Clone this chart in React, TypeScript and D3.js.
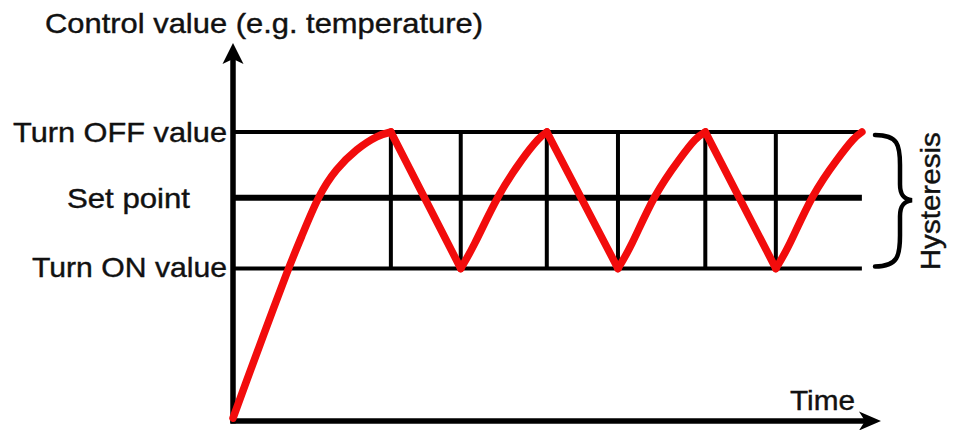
import React from "react";
import * as d3 from "d3";

// ---- data ----
const levelNames = ["Turn OFF value", "Set point", "Turn ON value"];
const levelValues = [76.6, 59.1, 40.3];

// switching instants (peaks / troughs) where vertical guides are drawn
const switchTimes = [24.4, 35.2, 48.5, 59.5, 73.0, 83.9];

// control value trace
const curveTime = [
  0, 2.1, 4.7, 8.3, 10.6, 13.2, 16.0, 19.1, 22.2, 24.4,
  35.2, 37.4, 41.0, 44.6, 47.1, 48.5,
  59.5, 61.7, 65.2, 68.9, 71.4, 73.0,
  83.9, 86.1, 89.6, 93.3, 95.8, 97.2,
];
const curveValue = [
  0.5, 10.4, 22.5, 39.0, 48.8, 59.0, 66.5, 71.8, 75.3, 76.6,
  40.3, 47.1, 59.4, 69.1, 74.5, 76.6,
  40.3, 47.1, 59.4, 69.1, 74.5, 76.6,
  40.3, 47.1, 59.4, 69.1, 74.5, 76.6,
];

const titleText = "Control value (e.g. temperature)";
const xAxisText = "Time";
const braceText = "Hysteresis";

// ---- layout ----
const W = 957;
const H = 430;
const X0 = 233;
const Y0 = 421;
const xScale = d3.scaleLinear().domain([0, 100]).range([X0, 880]);
const yScale = d3.scaleLinear().domain([0, 100]).range([420, 44]);
const gridEnd = 97.2;

const labelLayout = [
  { x: 13, dy: 10, len: 214 },
  { x: 67, dy: 10, len: 123 },
  { x: 32, dy: 9, len: 195 },
];
const levelWidths = [4, 6, 4];

export default function App() {
  const points: [number, number][] = curveTime.map((t, i) => [t, curveValue[i]]);

  // split into heating (rising, smooth) and cooling (falling, straight) pieces
  const rises: [number, number][][] = [];
  const falls: [number, number][][] = [];
  let cur: [number, number][] = [points[0]];
  for (let i = 1; i < points.length; i++) {
    if (points[i][1] < points[i - 1][1]) {
      rises.push(cur);
      falls.push([points[i - 1], points[i]]);
      cur = [points[i]];
    } else {
      cur.push(points[i]);
    }
  }
  rises.push(cur);

  const smooth = d3
    .line<[number, number]>()
    .x((d) => xScale(d[0]))
    .y((d) => yScale(d[1]))
    .curve(d3.curveNatural);
  const straight = d3
    .line<[number, number]>()
    .x((d) => xScale(d[0]))
    .y((d) => yScale(d[1]))
    .curve(d3.curveLinear);

  const topY = yScale(levelValues[0]);
  const botY = yScale(levelValues[2]);
  const font = "'Liberation Sans', Arial, Helvetica, sans-serif";

  const bx = 875;
  const braceMid = (topY + botY) / 2;
  const bracePath = `M ${bx} ${topY + 3} C ${bx + 23} ${topY + 3}, ${bx + 25} ${topY + 13}, ${bx + 25} ${topY + 33}
    L ${bx + 25} ${braceMid - 16} C ${bx + 25} ${braceMid - 5}, ${bx + 29} ${braceMid - 1}, ${bx + 37} ${braceMid}
    C ${bx + 29} ${braceMid + 1}, ${bx + 25} ${braceMid + 5}, ${bx + 25} ${braceMid + 16}
    L ${bx + 25} ${botY - 33} C ${bx + 25} ${botY - 13}, ${bx + 23} ${botY - 2}, ${bx} ${botY - 2}`;

  const red = "#f20c0c";

  return (
    <svg
      width={W}
      height={H}
      style={{ position: "absolute", left: 0, top: 0, background: "#fff" }}
    >
      <rect x={0} y={0} width={W} height={H} fill="#fff" />

      {/* vertical switching guides */}
      {switchTimes.map((t, i) => (
        <line
          key={"v" + i}
          x1={xScale(t)}
          x2={xScale(t)}
          y1={topY}
          y2={botY}
          stroke="#000"
          strokeWidth={4}
        />
      ))}

      {/* horizontal level lines */}
      {levelValues.map((v, i) => (
        <line
          key={"h" + i}
          x1={X0}
          x2={xScale(gridEnd)}
          y1={yScale(v)}
          y2={yScale(v)}
          stroke="#000"
          strokeWidth={levelWidths[i]}
        />
      ))}

      {/* axes */}
      <line x1={X0} x2={X0} y1={Y0 + 2.5} y2={58} stroke="#000" strokeWidth={5.5} />
      <path d={`M ${X0} 43 L ${X0 - 10.5} 64 L ${X0} 59 L ${X0 + 10.5} 64 Z`} fill="#000" />
      <line x1={X0 - 2.5} x2={866} y1={Y0} y2={Y0} stroke="#000" strokeWidth={5.5} />
      <path d={`M 881 ${Y0} L 859 ${Y0 - 9.5} L 865 ${Y0} L 859 ${Y0 + 9.5} Z`} fill="#000" />

      {/* control value trace */}
      <g fill="none" stroke={red} strokeWidth={7.5} strokeLinejoin="round" strokeLinecap="round">
        {rises.map((seg, i) => (
          <path key={"r" + i} d={smooth(seg) || ""} />
        ))}
        {falls.map((seg, i) => (
          <path key={"f" + i} d={straight(seg) || ""} />
        ))}
      </g>

      {/* brace */}
      <path d={bracePath} fill="none" stroke="#000" strokeWidth={4.5} strokeLinecap="round" />

      {/* texts */}
      <g fontFamily={font} fontSize={28} fill="#111" stroke="#111" strokeWidth={0.4}>
        <text x={45} y={33} textLength={438} lengthAdjust="spacingAndGlyphs">
          {titleText}
        </text>
        {levelNames.map((name, i) => (
          <text
            key={"l" + i}
            x={labelLayout[i].x}
            y={yScale(levelValues[i]) + labelLayout[i].dy}
            textLength={labelLayout[i].len}
            lengthAdjust="spacingAndGlyphs"
          >
            {name}
          </text>
        ))}
        <text x={790} y={410} textLength={65} lengthAdjust="spacingAndGlyphs">
          {xAxisText}
        </text>
        <text
          transform={`translate(940, ${braceMid + 70}) rotate(-90)`}
          textLength={138}
          lengthAdjust="spacingAndGlyphs"
        >
          {braceText}
        </text>
      </g>
    </svg>
  );
}
